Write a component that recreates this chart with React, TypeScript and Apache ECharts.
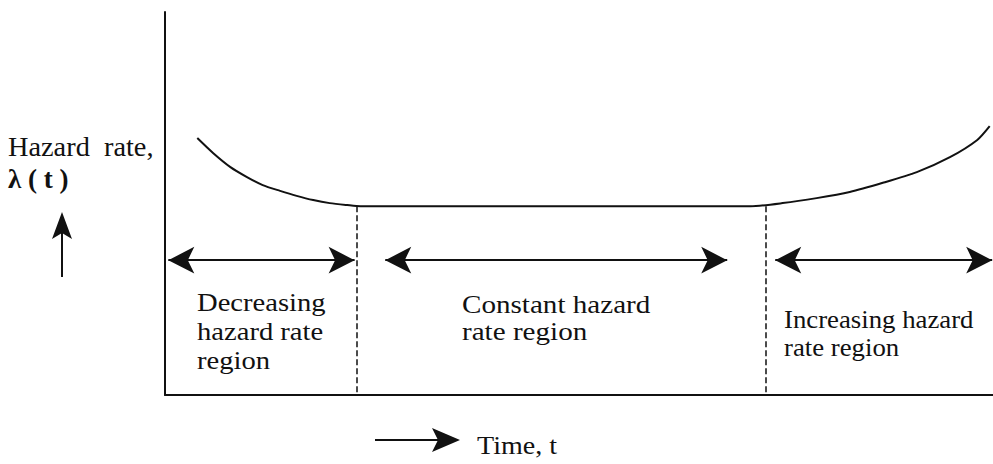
import React, { useEffect, useRef } from "react";
import * as echarts from "echarts";

// Bathtub curve: time (0-100) vs hazard rate (0-100), arbitrary units
const timeValues = [3.9, 5.8, 7.9, 9.9, 11.8, 13.9, 15.9, 17.9, 19.9, 22.0, 23.6, 35.0, 50.0, 62.0, 70.7, 74.6, 78.7, 82.7, 86.7, 90.8, 94.8, 98.1, 99.6];
const hazardValues = [67.1, 63.2, 59.5, 56.9, 54.8, 53.3, 52.0, 50.9, 50.1, 49.6, 49.3, 49.3, 49.3, 49.3, 49.3, 50.1, 51.4, 53.0, 55.4, 58.2, 62.1, 66.6, 70.2];

// Region boundaries (time) and level of the constant region
const regionBoundaries = [23.2, 72.5];
const constantLevel = 49.3;

// Region span arrows: [start, end] in time units, drawn at one height
const regionArrows = [
  [0.4, 22.9],
  [26.6, 67.9],
  [73.7, 99.9],
];
const arrowLevel = 35.2;

const regionLabels = [
  "Decreasing\nhazard rate\nregion",
  "Constant hazard\nrate region",
  "Increasing hazard\nrate region",
];

const FONT = "'Liberation Serif', 'DejaVu Serif', serif";

export default function App() {
  const ref = useRef<HTMLDivElement>(null);

  useEffect(() => {
    if (!ref.current) return;
    const chart = echarts.init(ref.current, undefined, { renderer: "svg" });

    const curve = timeValues.map((t, i) => [t, hazardValues[i]]);

    const arrowLines = regionArrows.map(([a, b]) => [
      { coord: [a, arrowLevel] },
      { coord: [b, arrowLevel] },
    ]);

    const dashLines = regionBoundaries.map((b) => [
      { coord: [b, constantLevel] },
      { coord: [b, 0] },
    ]);

    const textStyle = (size: number, weight: string = "normal") => ({
      fontFamily: FONT,
      fontSize: size,
      fontWeight: weight,
      fill: "#111",
    });

    chart.setOption({
      animation: false,
      backgroundColor: "#fff",
      grid: { left: 165, right: 0, top: 12, bottom: 69, containLabel: false },
      xAxis: {
        type: "value",
        min: 0,
        max: 100,
        axisLine: { show: true, onZero: false, lineStyle: { color: "#111", width: 2 } },
        axisTick: { show: false },
        axisLabel: { show: false },
        splitLine: { show: false },
      },
      yAxis: {
        type: "value",
        min: 0,
        max: 100,
        axisLine: { show: true, onZero: false, lineStyle: { color: "#111", width: 2 } },
        axisTick: { show: false },
        axisLabel: { show: false },
        splitLine: { show: false },
      },
      series: [
        {
          type: "line",
          data: curve,
          smooth: 0.25,
          showSymbol: false,
          lineStyle: { color: "#111", width: 2 },
          silent: true,
        },
        {
          type: "line",
          data: [],
          silent: true,
          markLine: {
            silent: true,
            symbol: ["none", "none"],
            label: { show: false },
            lineStyle: { color: "#111", width: 1.5, type: [6, 3] },
            data: dashLines,
          },
        },
        {
          type: "line",
          data: [],
          silent: true,
          markLine: {
            silent: true,
            symbol: ["arrow", "arrow"],
            symbolSize: [20, 26],
            label: { show: false },
            lineStyle: { color: "#111", width: 2, type: "solid" },
            itemStyle: { color: "#111" },
            data: arrowLines,
          },
        },
      ],
      graphic: [
        { type: "text", left: 8, top: 133, style: { text: "Hazard  rate,", ...textStyle(27) }, scaleX: 1.05 },
        { type: "text", left: 8, top: 165, style: { text: "λ ( t )", ...textStyle(27, "bold") } },
        // up arrow
        { type: "line", shape: { x1: 62, y1: 277, x2: 62, y2: 232 }, style: { stroke: "#111", lineWidth: 2 } },
        { type: "polygon", shape: { points: [[62, 212], [52, 239], [62, 233], [72, 239]] }, style: { fill: "#111" } },
        // time arrow
        { type: "line", shape: { x1: 375, y1: 440, x2: 438, y2: 440 }, style: { stroke: "#111", lineWidth: 2 } },
        { type: "polygon", shape: { points: [[460, 440], [432, 428], [438, 440], [432, 452]] }, style: { fill: "#111" } },
        { type: "text", x: 477, y: 432, style: { text: "Time, t", ...textStyle(26) }, scaleX: 1.08 },
        { type: "text", x: 197, y: 288, style: { text: regionLabels[0], lineHeight: 29, ...textStyle(26) }, scaleX: 1.1 },
        { type: "text", x: 462, y: 291, style: { text: regionLabels[1], lineHeight: 27, ...textStyle(26) }, scaleX: 1.12 },
        { type: "text", x: 784, y: 305, style: { text: regionLabels[2], lineHeight: 28, ...textStyle(26) }, scaleX: 1.03 },
      ],
    });

    return () => chart.dispose();
  }, []);

  return (
    <div
      ref={ref}
      style={{ position: "absolute", left: 0, top: 0, width: 993, height: 464 }}
    />
  );
}
